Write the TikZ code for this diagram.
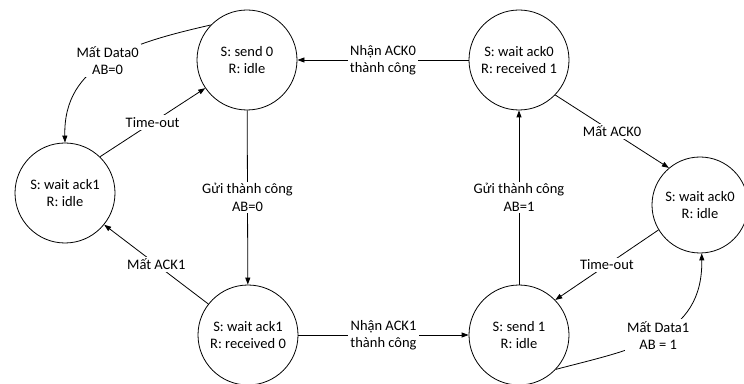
\documentclass[tikz,border=0pt]{standalone}
\usepackage{fontspec}
\setmainfont{Carlito}
\usetikzlibrary{arrows.meta}

\begin{document}
\begin{tikzpicture}[x=1pt, y=1pt, line width=0.8pt, >={Triangle[length=7pt,width=5pt]},
  font=\fontsize{14.5}{17.5}\selectfont,
  ring/.style={circle, draw, minimum size=100pt, inner sep=0pt, align=center},
  lbl/.style={fill=white, align=center, inner sep=2pt}]
  \useasboundingbox (0,0) rectangle (744,383);
  % states
  \node[ring] (send0) at (247,323) {S: send 0\\R: idle};
  \node[ring] (wa0r1) at (519,323) {S: wait ack0\\R: received 1};
  \node[ring] (wa1i)  at (65,190)  {S: wait ack1\\R: idle};
  \node[ring] (wa1r0) at (248,48)  {S: wait ack1\\R: received 0};
  \node[ring] (send1) at (519,48)  {S: send 1\\R: idle};
  \node[ring, minimum size=96pt] (wa0i) at (700,178) {S: wait ack0\\R: idle};
  % transitions
  \draw[->] (wa0r1) -- node[lbl] {Nhận ACK0\\thành công} (send0);
  \draw[->] (send0) -- node[lbl] {Gửi thành công\\AB=0} (wa1r0);
  \draw[->] (wa1r0) -- node[lbl] {Nhận ACK1\\thành công} (send1);
  \draw[->] (send1) -- node[lbl] {Gửi thành công\\AB=1} (wa0r1);
  \draw[->] (wa0r1.-44) -- node[lbl] {Mất ACK0} (wa0i.130);
  \draw[->] (wa0i.211) -- node[lbl] {Time-out} (send1.44);
  \draw[->] (wa1r0.142) -- node[lbl] {Mất ACK1} (wa1i.-39);
  \draw[->] (wa1i.46) -- node[lbl] {Time-out} (send0.214);
  % lost data loops
  \draw[->] (send0.136) .. controls (132,340) and (63,320) .. node[lbl] {Mất Data0\\AB=0} (wa1i.90);
  \draw[->] (send1.-43) .. controls (633,34) and (703,45) .. node[lbl] {Mất Data1\\AB = 1} (wa0i.-88);
\end{tikzpicture}
\end{document}
